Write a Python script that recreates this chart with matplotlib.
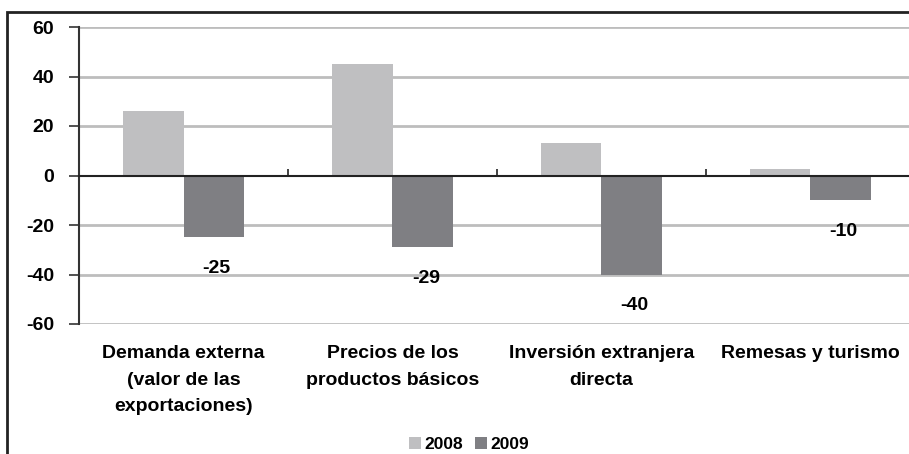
import numpy as np
import matplotlib
matplotlib.use("Agg")
import matplotlib.pyplot as plt
from matplotlib.patches import Rectangle
from matplotlib.transforms import blended_transform_factory

# data
categories = ["Demanda externa\n(valor de las\nexportaciones)",
              "Precios de los\nproductos básicos",
              "Inversión extranjera\ndirecta",
              "Remesas y turismo"]
values_2008 = [26, 45, 13, 2.5]
values_2009 = [-25, -29, -40, -10]
series_names = ["2008", "2009"]
yticks = [-60, -40, -20, 0, 20, 40, 60]

colors = {"2008": "#bfbfc1", "2009": "#7f7f83"}

plt.rcParams['font.family'] = ['Liberation Sans', 'DejaVu Sans']
plt.rcParams['font.weight'] = 'bold'
fs = 14

fig = plt.figure(figsize=(9.09, 4.54), dpi=100)
ax = fig.add_axes([79/909, 1 - 324/454, 836/909, 297/454])

x = np.arange(len(categories)) + 0.5
w = 0.29
ax.bar(x - w/2, values_2008, w, color=colors["2008"], label=series_names[0], zorder=3)
ax.bar(x + w/2, values_2009, w, color=colors["2009"], label=series_names[1], zorder=3)

# data labels for 2009 only
for xi, v in zip(x + w/2, values_2009):
    ax.annotate("%d" % v, (xi, v), xytext=(3, -31), textcoords="offset pixels",
                ha="center", va="center", fontsize=fs, fontweight="bold", zorder=5)

ax.set_xlim(0, len(categories))
ax.set_ylim(-60, 60)
ax.set_yticks(yticks)
ax.set_yticklabels([str(t) for t in yticks], fontsize=fs, fontweight="bold")

# grid
for t in yticks:
    if t != 0:
        ax.axhline(t, color="#bdbdbd", linewidth=2, zorder=1)

for s in ["top", "right"]:
    ax.spines[s].set_visible(False)
ax.spines["left"].set_color("#333333")
ax.spines["left"].set_linewidth(1.5)
ax.spines["bottom"].set_position(("data", 0))
ax.spines["bottom"].set_color("#222222")
ax.spines["bottom"].set_linewidth(1.5)
ax.spines["bottom"].set_zorder(4)

ax.set_xticks(np.arange(len(categories) + 1))
ax.set_xticklabels([])
ax.tick_params(axis="x", direction="in", length=5, width=1.2, color="#222222")
ax.tick_params(axis="y", direction="out", length=7, width=1.2, color="#333333", pad=11)

trans = blended_transform_factory(ax.transData, ax.transAxes)
for xi, lab in zip(x, categories):
    ax.text(xi, -0.07, lab, transform=trans, ha="center", va="top",
            fontsize=fs, fontweight="bold", linespacing=1.75)

fig.legend(loc="lower center", bbox_to_anchor=(0.516, -0.03), ncol=2, frameon=False,
           handlelength=0.7, handleheight=0.7, handletextpad=0.2,
           columnspacing=0.7, prop={"weight": "bold", "size": 12.5})

# outer chart frame, partly cut by the image edge
fig.patches.append(Rectangle((7/909, -0.1), 1.2, 1 - 12/454 + 0.1, transform=fig.transFigure,
                             fill=False, edgecolor="#222222", linewidth=2))

fig.savefig("out.png", dpi=100)
